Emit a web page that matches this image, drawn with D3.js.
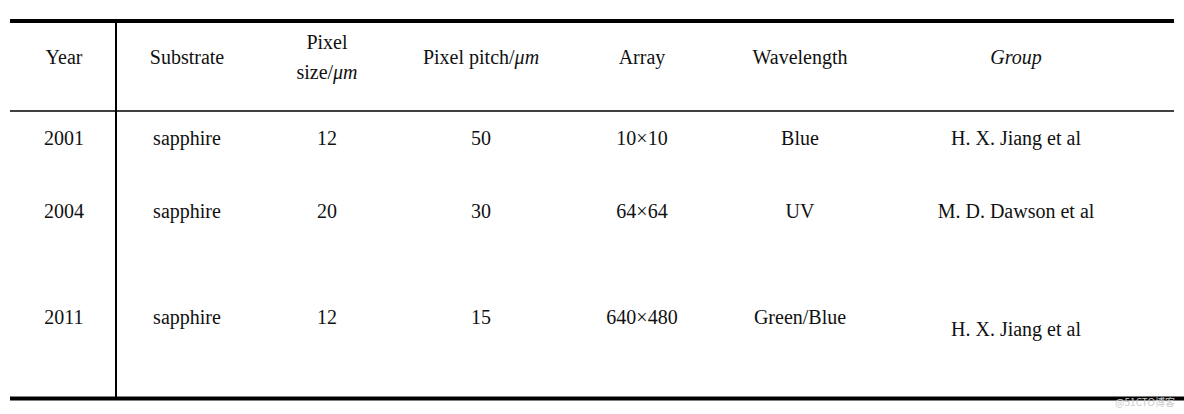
<!DOCTYPE html>
<html>
<head>
<meta charset="utf-8">
<script src="https://cdn.jsdelivr.net/npm/d3@7"></script>
<style>
  body { margin: 0; background: #fff; }
  svg text { font-family: 'Liberation Serif', 'DejaVu Serif', serif; font-size: 20px; fill: #111; }
</style>
</head>
<body>
<div id="chart"></div>
<script>
// Table content
const columns = ['Year', 'Substrate', 'PixelSize', 'PixelPitch', 'Array', 'Wavelength', 'Group'];
const years = ['2001', '2004', '2011'];
const substrates = ['sapphire', 'sapphire', 'sapphire'];
const pixelSizes = ['12', '20', '12'];
const pixelPitches = ['50', '30', '15'];
const arrays = ['10×10', '64×64', '640×480'];
const wavelengths = ['Blue', 'UV', 'Green/Blue'];
const groups = ['H. X. Jiang et al', 'M. D. Dawson et al', 'H. X. Jiang et al'];

const width = 1184, height = 414;

const svg = d3.select('#chart').append('svg')
  .attr('width', width)
  .attr('height', height)
  .attr('font-family', "'Liberation Serif', 'DejaVu Serif', serif");

// column centers and row baselines
const x = d3.scaleOrdinal()
  .domain(columns)
  .range([64, 187, 327, 481, 642, 800, 1016]);

const y = d3.scaleOrdinal()
  .domain(years)
  .range([145, 218, 324]);

// Rules
svg.append('line').attr('x1', 10).attr('x2', 1174).attr('y1', 21).attr('y2', 21)
  .attr('stroke', '#000').attr('stroke-width', 4);
svg.append('line').attr('x1', 10).attr('x2', 1174).attr('y1', 111).attr('y2', 111)
  .attr('stroke', '#000').attr('stroke-width', 1.5);
svg.append('line').attr('x1', 10).attr('x2', 1184).attr('y1', 398.5).attr('y2', 398.5)
  .attr('stroke', '#000').attr('stroke-width', 4);
svg.append('line').attr('x1', 116).attr('x2', 116).attr('y1', 21).attr('y2', 398)
  .attr('stroke', '#000').attr('stroke-width', 2);

// Header
const head = svg.append('g').attr('text-anchor', 'middle');
head.append('text').attr('x', x('Year')).attr('y', 64).text('Year');
head.append('text').attr('x', x('Substrate')).attr('y', 64).text('Substrate');
head.append('text').attr('x', x('PixelSize')).attr('y', 49).text('Pixel');
const ps = head.append('text').attr('x', x('PixelSize')).attr('y', 79);
ps.append('tspan').text('size/');
ps.append('tspan').attr('font-style', 'italic').text('μm');
const pp = head.append('text').attr('x', x('PixelPitch')).attr('y', 64);
pp.append('tspan').text('Pixel pitch/');
pp.append('tspan').attr('font-style', 'italic').text('μm');
head.append('text').attr('x', x('Array')).attr('y', 64).text('Array');
head.append('text').attr('x', x('Wavelength')).attr('y', 64).text('Wavelength');
head.append('text').attr('x', x('Group')).attr('y', 64).attr('font-style', 'italic').text('Group');

// Body rows
const rows = years.map((yr, i) => ({
  Year: yr, Substrate: substrates[i], PixelSize: pixelSizes[i],
  PixelPitch: pixelPitches[i], Array: arrays[i], Wavelength: wavelengths[i], Group: groups[i]
}));

const body = svg.append('g').attr('text-anchor', 'middle');
rows.forEach(r => {
  columns.forEach(c => {
    // last group label sits a bit lower in the source
    const dy = (c === 'Group' && r.Year === '2011') ? 12 : 0;
    body.append('text')
      .attr('x', x(c))
      .attr('y', y(r.Year) + dy)
      .text(r[c]);
  });
});

// watermark
svg.append('text').attr('x', 1175).attr('y', 406).attr('text-anchor', 'end')
  .style('font-family', '"Noto Sans CJK SC", sans-serif').style('font-size', '10px')
  .style('fill', '#ccc').text('@51CTO博客');
</script>
</body>
</html>
